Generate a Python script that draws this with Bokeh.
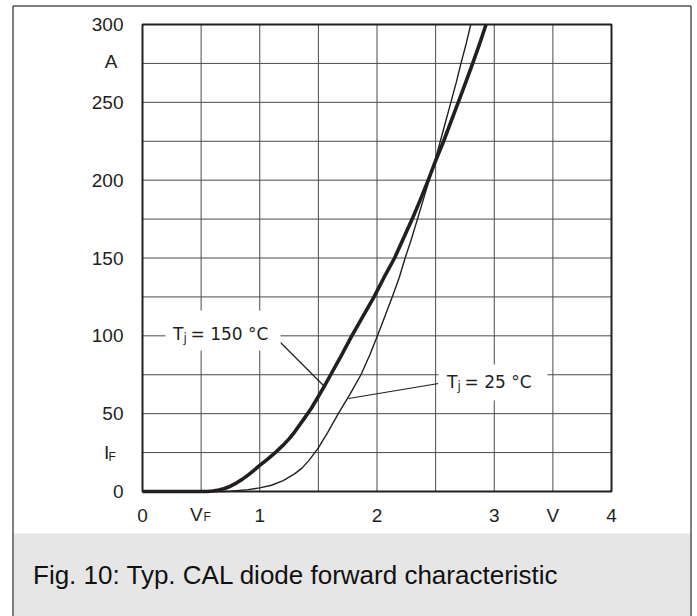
from bokeh.plotting import figure
from bokeh.models import FixedTicker, Label, BoxAnnotation, Range1d, LinearAxis
from bokeh.embed import file_html
from bokeh.resources import INLINE

# ---- data ----
v_150 = [0.0, 0.55, 0.6, 0.65, 0.7, 0.75, 0.8, 0.85, 0.9, 0.95, 1.0, 1.07, 1.14, 1.2, 1.25, 1.3,
         1.38, 1.44, 1.5, 1.55, 1.605, 1.7, 1.785, 1.88, 1.975, 2.06, 2.15, 2.225, 2.30, 2.37,
         2.437, 2.50, 2.568, 2.63, 2.693, 2.755, 2.816, 2.875, 2.93]
i_150 = [0, 0, 0.3, 0.9, 1.9, 3.4, 5.4, 7.8, 10.5, 13.6, 16.8, 21, 25.5, 29.8, 33.8, 38.5,
         47, 53.5, 61, 67.5, 75, 88, 100, 112.5, 125, 137.5, 150, 162.5, 175, 187.5,
         200, 212.5, 225, 237.5, 250, 262.5, 275, 287.5, 300]

v_25 = [0.0, 0.7, 0.75, 0.8, 0.9, 1.0, 1.1, 1.2, 1.3, 1.36, 1.42, 1.5, 1.58, 1.67, 1.77, 1.863,
        1.94, 2.004, 2.07, 2.13, 2.19, 2.24, 2.295, 2.345, 2.395, 2.445, 2.495, 2.54, 2.585,
        2.63, 2.675, 2.716, 2.76, 2.80]
i_25 = [0, 0, 0.2, 0.5, 1.2, 2.3, 4, 7, 11.5, 15, 20, 28, 38, 50, 62.5, 75,
        88, 100, 113, 125, 137.5, 150, 162.5, 175, 187.5, 200, 212.5, 225, 237.5,
        250, 262.5, 275, 287.5, 300]

x_grid = [0, 0.5, 1, 1.5, 2, 2.5, 3, 3.5, 4]
x_ticks = [0, 1, 2, 3, 3.5, 4]
x_tick_labels = ["0", "1", "2", "3", "V", "4"]
y_grid = [0, 25, 50, 75, 100, 125, 150, 175, 200, 225, 250, 275, 300]
y_ticks = [0, 50, 100, 150, 200, 250, 300]
XMAX, YMAX = 4, 300

label_150 = "= 150 °C"
label_25 = "= 25 °C"
caption = "Fig. 10: Typ. CAL diode forward characteristic"

# ---- layout (pixels): the plot area sits at FL..FR x FT..FB of the canvas ----
W, H = 697, 616
FL, FR, FT, FB = 142, 611, 24, 491
LIFT = 7.5  # labels sit this much lower than their nominal baseline


def X(px):
    return (px - FL) / (FR - FL) * XMAX


def Y(py):
    return (FB - py) / (FB - FT) * YMAX


INK = "#231f20"
FONT = "Liberation Sans"
LFONT = "DejaVu Sans"

# the frame covers the whole canvas; axes are pinned at x=0 / y=0
p = figure(width=W, height=H, x_range=Range1d(X(0), X(W)), y_range=Range1d(Y(H), Y(0)),
           output_backend="svg", toolbar_location=None,
           x_axis_location=None, y_axis_location=None, min_border=0)
p.background_fill_color = "white"
p.border_fill_color = "white"
p.outline_line_color = None
p.xgrid.visible = False
p.ygrid.visible = False

xaxis = LinearAxis(fixed_location=0, ticker=FixedTicker(ticks=x_ticks),
                   major_label_overrides=dict(zip(x_ticks, x_tick_labels)),
                   major_label_standoff=7)
yaxis = LinearAxis(fixed_location=0, ticker=FixedTicker(ticks=y_ticks),
                   major_label_standoff=13)
for ax in (xaxis, yaxis):
    ax.axis_line_color = None
    ax.major_tick_line_color = None
    ax.minor_tick_line_color = None
    ax.major_label_text_font = FONT
    ax.major_label_text_font_size = "19px"
    ax.major_label_text_color = INK
p.add_layout(xaxis, "below")
p.add_layout(yaxis, "left")

# caption band (drawn first, underneath everything else)
p.add_layout(BoxAnnotation(left=X(13), right=X(690), top=Y(533), bottom=Y(H + 20),
                           fill_color="#e6e6e6", fill_alpha=1, line_color=None))

# grid lines at every grid position
p.segment(x0=x_grid, y0=[0] * len(x_grid), x1=x_grid, y1=[YMAX] * len(x_grid),
          line_color="#4a4a4a", line_width=1)
p.segment(x0=[0] * len(y_grid), y0=y_grid, x1=[XMAX] * len(y_grid), y1=y_grid,
          line_color="#4a4a4a", line_width=1)

# curves
p.line(v_25, i_25, line_color=INK, line_width=1.4, line_join="round")
p.line(v_150, i_150, line_color=INK, line_width=3.6, line_join="round")

# leader lines
p.segment(x0=[X(280), X(438)], y0=[Y(342), Y(383)],
          x1=[X(323), X(348)], y1=[Y(385), Y(398)],
          line_color=INK, line_width=1.2)

# plot-area border
p.add_layout(BoxAnnotation(left=0, right=XMAX, bottom=0, top=YMAX,
                           fill_alpha=0, line_color=INK, line_width=2, line_alpha=1))

# white boxes behind the curve labels
for (l, r, t, b) in [(165, 280, 310, 350), (438, 547, 364, 400)]:
    p.add_layout(BoxAnnotation(left=X(l), right=X(r), top=Y(t), bottom=Y(b),
                               fill_color="white", fill_alpha=1, line_color=None))


def label(px, py, text, size, font=FONT, align="left", baseline="alphabetic", color=INK):
    if baseline == "alphabetic":
        py = py - LIFT
    p.add_layout(Label(x=X(px), y=Y(py), text=text, text_font=font, text_font_size=size,
                       text_color=color, text_align=align, text_baseline=baseline))


def curve_label(x0, base, rest):
    label(x0, base, "T", "17px", LFONT)
    label(x0 + 10.5, base + 4.5, "j", "12px", LFONT)
    label(x0 + 17.5, base, rest, "17px", LFONT)


curve_label(172.5, 340.5, label_150)
curve_label(446.5, 388.5, label_25)

# axis unit / symbol labels
label(117, 61, "A", "19px", align="right", baseline="middle")
label(103.5, 459, "I", "19px")
label(108, 464, "F", "12px")
label(189.5, 521.5, "V", "19px")
label(203, 524, "F", "12px")

label(32.5, 581.5, caption, "26px", color="#111111")

# outer frame line
p.add_layout(BoxAnnotation(left=X(12.5), right=X(690.5), top=Y(5.5), bottom=Y(H + 20),
                           fill_alpha=0, line_color="#000000", line_width=1, line_alpha=1))

open("out.html", "w").write(file_html(p, INLINE))
